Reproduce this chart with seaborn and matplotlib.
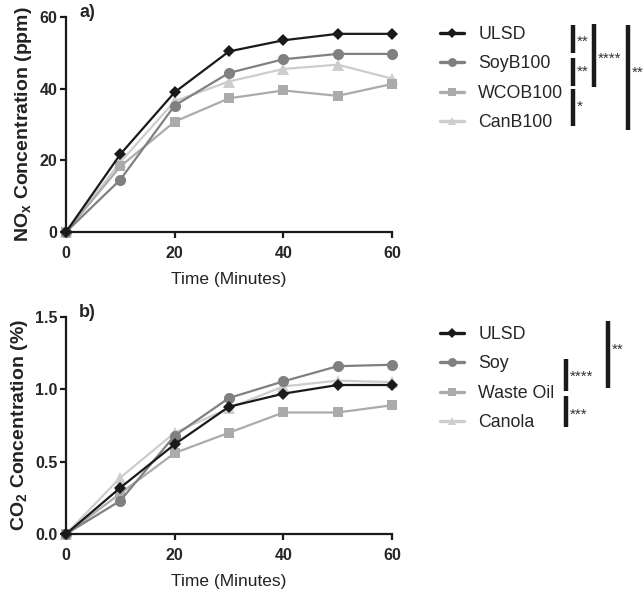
import matplotlib
matplotlib.use("Agg")
import matplotlib.pyplot as plt
import seaborn as sns
import pandas as pd

time_min = [0, 10, 20, 30, 40, 50, 60]

# panel a) NOx (ppm)
nox_labels = ["ULSD", "SoyB100", "WCOB100", "CanB100"]
nox_ulsd = [0, 21.7, 39.0, 50.4, 53.5, 55.3, 55.3]
nox_soy = [0, 14.6, 35.3, 44.4, 48.2, 49.7, 49.7]
nox_wco = [0, 18.3, 30.8, 37.3, 39.5, 38.0, 41.3]
nox_can = [0, 19.5, 36.5, 42.0, 45.5, 46.7, 42.8]

# panel b) CO2 (%)
co2_labels = ["ULSD", "Soy", "Waste Oil", "Canola"]
co2_ulsd = [0, 0.32, 0.62, 0.88, 0.97, 1.03, 1.03]
co2_soy = [0, 0.23, 0.68, 0.94, 1.055, 1.16, 1.17]
co2_waste = [0, 0.28, 0.56, 0.70, 0.84, 0.84, 0.89]
co2_canola = [0, 0.39, 0.70, 0.87, 1.02, 1.06, 1.05]

colors = ["#1a1a1a", "#808080", "#ababab", "#cdcdcd"]
markers = ["D", "o", "s", "^"]
marker_sizes = [6, 8, 7, 8]

sns.set_theme(style="ticks")
plt.rcParams["font.family"] = ["Liberation Sans", "DejaVu Sans"]

W, H = 643, 592
fig = plt.figure(figsize=(W / 100, H / 100), dpi=100)


def px_axes(left, top, right, bottom):
    return fig.add_axes([left / W, 1 - bottom / H, (right - left) / W, (bottom - top) / H])


def draw_panel(ax, labels, series, ymax, yticks, yticklabels, ylabel, tag, legend_top):
    df = pd.concat([
        pd.DataFrame({"time": time_min, "value": vals, "fuel": lab})
        for lab, vals in zip(labels, series)
    ])
    # draw in reverse so ULSD ends on top
    for lab, col, mk, ms in reversed(list(zip(labels, colors, markers, marker_sizes))):
        sub = df[df["fuel"] == lab]
        sns.lineplot(data=sub, x="time", y="value", ax=ax, color=col, marker=mk,
                     markersize=ms, markeredgewidth=0, linewidth=1.6, label=lab,
                     clip_on=False)
    ax.set_xlim(0, 60)
    ax.set_ylim(0, ymax)
    ax.set_xticks([0, 20, 40, 60])
    ax.set_yticks(yticks)
    ax.set_xticklabels([str(t) for t in [0, 20, 40, 60]], fontweight="bold", fontsize=11.5)
    ax.set_yticklabels(yticklabels, fontweight="bold", fontsize=11.5)
    for s in ["top", "right"]:
        ax.spines[s].set_visible(False)
    for s in ["left", "bottom"]:
        ax.spines[s].set_linewidth(1.6)
        ax.spines[s].set_color("#1a1a1a")
    ax.tick_params(width=1.6, length=4, color="#1a1a1a", pad=2)
    ax.tick_params(axis="x", pad=6)
    ax.set_xlabel("Time (Minutes)", fontsize=12.5, color="#222222", labelpad=8)
    ax.set_ylabel(ylabel, fontsize=14, fontweight="bold", color="#222222", labelpad=4)
    ax.text(0.04, 1.02, tag, transform=ax.transAxes, fontsize=13, fontweight="bold",
            va="center", ha="left")
    handles, labs = ax.get_legend_handles_labels()
    order = [labs.index(l) for l in labels]
    leg = ax.legend([handles[i] for i in order], [labs[i] for i in order],
                    loc="upper left", bbox_to_anchor=(440 / W, 1 - legend_top / H),
                    bbox_transform=fig.transFigure, frameon=False, fontsize=12.8,
                    handlelength=1.35, handletextpad=0.8, labelspacing=0.7,
                    borderaxespad=0, borderpad=0, markerscale=0.8)
    for line in leg.get_lines():
        line.set_linewidth(2.4)


ax1 = px_axes(66, 17, 392, 232)
draw_panel(ax1, nox_labels, [nox_ulsd, nox_soy, nox_wco, nox_can], 60, [0, 20, 40, 60],
           ["0", "20", "40", "60"], "NO$_\\mathregular{x}$ Concentration (ppm)", "a)", 26)

ax2 = px_axes(66, 317, 392, 534)
draw_panel(ax2, co2_labels, [co2_ulsd, co2_soy, co2_waste, co2_canola], 1.5,
           [0.0, 0.5, 1.0, 1.5], ["0.0", "0.5", "1.0", "1.5"],
           "CO$_\\mathregular{2}$ Concentration (%)", "b)", 326)


def sig_bar(x, y0, y1, stars, ty):
    fig.add_artist(plt.Line2D([x / W, x / W], [1 - y0 / H, 1 - y1 / H],
                              transform=fig.transFigure, color="#1a1a1a", linewidth=3.2,
                              solid_capstyle="butt"))
    fig.text((x + 4) / W, 1 - ty / H, stars, fontsize=11, color="#333333",
             ha="left", va="center")


# significance brackets, panel a
sig_bar(573, 25, 53, "**", 42)
sig_bar(573, 58, 86, "**", 72)
sig_bar(573, 89, 126, "*", 107)
sig_bar(594, 24, 87, "****", 59)
sig_bar(628, 25, 130, "**", 73)
# panel b
sig_bar(566, 359, 391, "****", 377)
sig_bar(566, 396, 427, "***", 415)
sig_bar(608, 321, 388, "**", 350)

fig.savefig("out.png", dpi=100)
